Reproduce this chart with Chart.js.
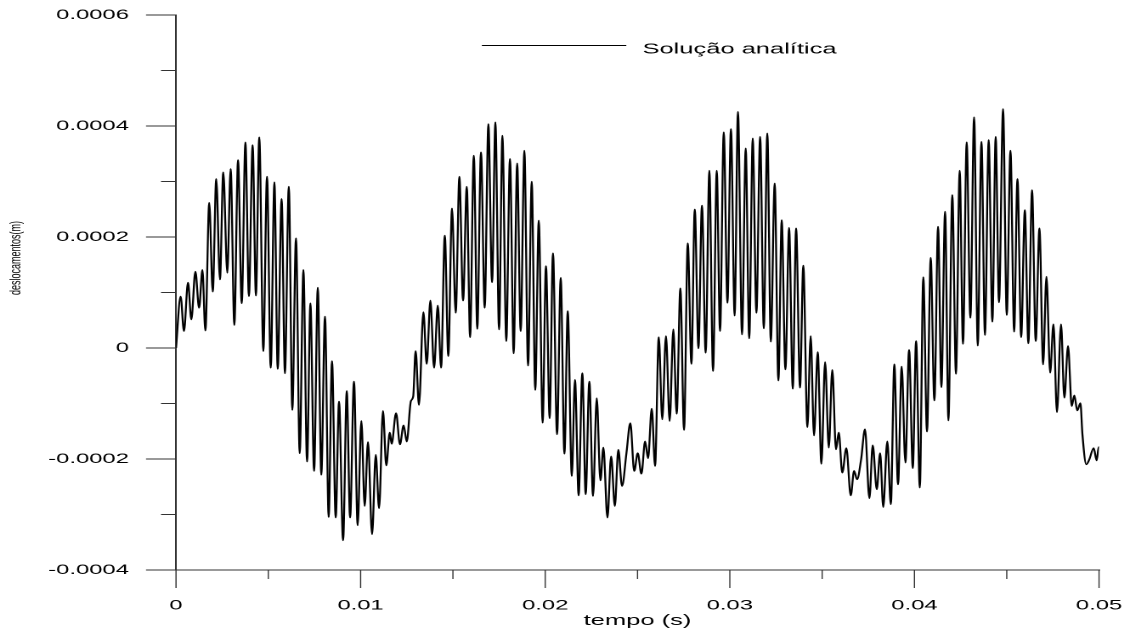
<!DOCTYPE html>
<html>
<head>
<meta charset="utf-8">
<title>Solução analítica</title>
<script src="https://cdn.jsdelivr.net/npm/chart.js@4.4.1/dist/chart.umd.min.js"></script>
<style>
    html, body { margin: 0; padding: 0; background: #fff; overflow: hidden; }
    /* the original figure is stretched sideways: draw narrow, then widen */
    #wrap { position: relative; width: 665px; height: 635px; transform: scaleX(1.6992); transform-origin: 0 0; }
</style>
</head>
<body>
<div id="wrap"><canvas id="deslocChart"></canvas></div>
<script>
// tempo em ms, deslocamento em 1e-4 m
const tempoMs = [
    0, 0.25, 0.43, 0.65, 0.83, 1.05, 1.25, 1.43, 1.59, 1.80, 1.99, 2.18, 2.38, 2.56, 2.78, 2.96,
    3.16, 3.36, 3.56, 3.76, 3.95, 4.15, 4.33, 4.51, 4.73, 4.93, 5.13, 5.33, 5.51, 5.72, 5.90, 6.11,
    6.30, 6.50, 6.70, 6.90, 7.10, 7.28, 7.48, 7.68, 7.87, 8.07, 8.27, 8.45, 8.65, 8.83, 9.05, 9.25,
    9.43, 9.64, 9.84, 10.04, 10.22, 10.40, 10.62, 10.82, 11.00, 11.21, 11.39, 11.58, 11.68, 11.92,
    12.13, 12.33, 12.50, 12.72, 12.85, 12.98, 13.16, 13.40, 13.58, 13.78, 13.98, 14.18, 14.36, 14.56,
    14.75, 14.95, 15.15, 15.35, 15.55, 15.75, 15.93, 16.13, 16.32, 16.52, 16.72, 16.92, 17.12, 17.30,
    17.50, 17.68, 17.89, 18.09, 18.29, 18.48, 18.67, 18.87, 19.07, 19.27, 19.46, 19.65, 19.86, 20.04,
    20.24, 20.42, 20.64, 20.84, 21.04, 21.22, 21.44, 21.61, 21.81, 22.01, 22.19, 22.39, 22.59, 22.79,
    22.99, 23.15, 23.37, 23.57, 23.77, 23.96, 24.16, 24.40, 24.61, 24.82, 25.01, 25.21, 25.41, 25.57,
    25.77, 25.95, 26.15, 26.34, 26.54, 26.74, 26.94, 27.12, 27.32, 27.52, 27.72, 27.92, 28.10, 28.30,
    28.49, 28.69, 28.89, 29.09, 29.29, 29.47, 29.67, 29.87, 30.06, 30.26, 30.44, 30.66, 30.86, 31.05,
    31.24, 31.44, 31.64, 31.84, 32.03, 32.22, 32.43, 32.63, 32.81, 33.01, 33.21, 33.41, 33.59, 33.80,
    33.98, 34.20, 34.38, 34.56, 34.76, 34.96, 35.16, 35.36, 35.55, 35.75, 35.90, 36.09, 36.31, 36.55,
    36.73, 36.89, 37.11, 37.32, 37.56, 37.74, 37.96, 38.14, 38.31, 38.53, 38.72, 38.91, 39.11, 39.31,
    39.51, 39.71, 39.91, 40.09, 40.29, 40.48, 40.68, 40.88, 41.08, 41.28, 41.46, 41.66, 41.84, 42.05,
    42.25, 42.45, 42.63, 42.83, 43.03, 43.23, 43.43, 43.63, 43.82, 44.02, 44.22, 44.40, 44.58, 44.80,
    45.00, 45.20, 45.40, 45.58, 45.78, 45.98, 46.17, 46.37, 46.57, 46.77, 46.97, 47.15, 47.35, 47.53,
    47.72, 47.94, 48.12, 48.32, 48.52, 48.66, 48.82, 48.99, 49.10, 49.31, 49.47, 49.71, 49.87, 49.98,
    50.00
];
const deslocamento = [
    0, 0.93, 0.30, 1.18, 0.51, 1.38, 0.72, 1.41, 0.31, 2.62, 1.01, 3.05, 1.23, 3.17, 1.35, 3.23,
    0.41, 3.39, 0.80, 3.71, 0.93, 3.66, 0.94, 3.80, -0.06, 3.09, -0.36, 2.99, -0.38, 2.69, -0.46, 2.91,
    -1.12, 1.98, -1.90, 1.41, -2.05, 0.81, -2.22, 1.09, -2.29, 0.57, -3.05, -0.23, -3.06, -0.96, -3.47, -0.77,
    -3.06, -0.60, -3.20, -1.31, -2.85, -1.69, -3.36, -1.92, -2.89, -1.13, -2.12, -1.52, -1.73, -1.17,
    -1.74, -1.39, -1.69, -0.96, -0.87, -0.05, -1.03, 0.65, -0.29, 0.86, -0.36, 0.77, -0.36, 2.03,
    -0.15, 2.52, 0.63, 3.09, 0.85, 2.91, 0.19, 3.47, 0.34, 3.53, 0.72, 4.04, 1.18, 4.07,
    0.33, 3.83, 0.12, 3.41, -0.10, 3.33, 0.30, 3.56, -0.32, 3.00, -0.76, 2.30, -1.35, 1.48,
    -1.27, 1.71, -1.56, 1.27, -1.91, 0.67, -2.31, -0.57, -2.66, -0.45, -2.64, -0.60, -2.67, -0.90,
    -2.39, -1.79, -3.06, -1.95, -2.85, -1.83, -2.49, -1.89, -1.35, -2.22, -1.89, -2.27, -1.68, -1.99,
    -1.09, -2.13, 0.20, -1.29, 0.22, -1.32, 0.34, -1.19, 1.08, -1.48, 1.89, -0.29, 2.50, -0.01,
    2.57, -0.09, 3.20, -0.42, 3.20, 0.30, 3.89, 0.81, 3.95, 0.58, 4.26, 0.24, 3.60, 0.17,
    3.78, 0.63, 3.81, 0.35, 3.87, 0.11, 2.97, -0.59, 2.31, -0.39, 2.17, -0.74, 2.16, -0.72,
    1.49, -1.43, 0.22, -1.58, -0.07, -2.09, -0.25, -1.80, -0.39, -1.83, -1.52, -2.25, -1.80, -2.66,
    -2.21, -2.37, -2.01, -1.46, -2.71, -1.75, -2.55, -1.89, -2.87, -1.68, -2.82, -0.29, -2.46, -0.33,
    -2.07, -0.03, -2.17, 0.13, -2.52, 1.28, -1.51, 1.63, -0.95, 2.19, -0.71, 2.46, -1.31, 2.76,
    -0.47, 3.20, 0.07, 3.71, 0.54, 4.16, 0.04, 3.72, 0.23, 3.75, 0.47, 3.81, 0.82, 4.31,
    0.59, 3.56, 0.29, 3.05, 0.19, 2.49, 0.08, 2.85, 0.12, 2.16, -0.30, 1.29, -0.45, 0.43,
    -1.16, 0.43, -0.90, 0.04, -1.05, -0.85, -1.13, -0.99, -1.56, -2.10, -2.01, -1.80, -2.03, -1.78,
    -1.80
];
const xTicks = { min: 0, max: 0.05, step: 0.005 };
const yTicks = { min: -0.0004, max: 0.0006, step: 0.0001 };
const yTitulo = 'deslocamentos(m)';

const STRETCH = 1130 / 665;
const fonte = '"Liberation Sans", Arial, Helvetica, sans-serif';

const pontos = tempoMs.map((t, i) => ({ x: t / 1000, y: deslocamento[i] * 1e-4 }));

function fmt(v, casas) {
    if (Math.abs(v) < 1e-12) return '0';
    return v.toFixed(casas);
}

// ticks maiores e menores (Chart.js só tem um comprimento)
const marcasEixos = {
    id: 'marcasEixos',
    afterDraw(chart) {
        const { ctx, scales: { x, y } } = chart;
        ctx.save();
        ctx.strokeStyle = '#333';
        ctx.lineWidth = 0.7;
        ctx.beginPath();
        x.ticks.forEach((t, i) => {
            const px = x.getPixelForValue(t.value);
            ctx.moveTo(px, x.top);
            ctx.lineTo(px, x.top + (i % 2 === 0 ? 18 : 9));
        });
        ctx.stroke();
        ctx.lineWidth = 1;
        ctx.beginPath();
        y.ticks.forEach((t, i) => {
            const py = y.getPixelForValue(t.value);
            ctx.moveTo(y.right, py);
            ctx.lineTo(y.right - (i % 2 === 0 ? 30 : 15) / STRETCH, py);
        });
        ctx.stroke();
        ctx.restore();
    }
};

// legenda dentro da área do gráfico + título do eixo y (fica acima do centro no original)
const legendaInterna = {
    id: 'legendaInterna',
    afterDraw(chart) {
        const { ctx, chartArea } = chart;
        const ds = chart.data.datasets[0];
        const x0 = chartArea.left + 180;
        ctx.save();
        ctx.strokeStyle = ds.borderColor;
        ctx.lineWidth = 1;
        ctx.beginPath();
        ctx.moveTo(x0, 45.5);
        ctx.lineTo(x0 + 85, 45.5);
        ctx.stroke();
        ctx.fillStyle = '#000';
        ctx.font = '15px ' + fonte;
        ctx.textBaseline = 'alphabetic';
        ctx.fillText(ds.label, x0 + 94.5, 53.3);

        ctx.translate(9.4, chartArea.top + 243);
        ctx.rotate(-Math.PI / 2);
        ctx.font = '9px ' + fonte;
        ctx.textAlign = 'center';
        ctx.textBaseline = 'middle';
        ctx.fillText(yTitulo, 0, 0);
        ctx.restore();
    }
};

const ctx = document.getElementById('deslocChart').getContext('2d');

const deslocChart = new Chart(ctx, {
    type: 'line',
    data: {
        datasets: [{
            label: 'Solução analítica',
            data: pontos,
            borderColor: '#000',
            borderWidth: 1.15,
            pointRadius: 0,
            fill: false,
            cubicInterpolationMode: 'monotone'
        }]
    },
    options: {
        responsive: true,
        maintainAspectRatio: false,
        animation: false,
        devicePixelRatio: 2,
        layout: { padding: { top: 15, right: 18.2, left: 0, bottom: 0 } },
        plugins: {
            legend: { display: false },
            tooltip: { enabled: false }
        },
        scales: {
            x: {
                type: 'linear',
                min: xTicks.min,
                max: xTicks.max,
                afterFit: (scale) => {
                    scale.height = 65;
                    scale.paddingLeft = 0;
                    scale.paddingRight = 0;
                },
                border: { display: true, color: '#333', width: 1 },
                grid: { drawOnChartArea: false, drawTicks: false },
                ticks: {
                    stepSize: xTicks.step,
                    autoSkip: false,
                    maxRotation: 0,
                    padding: 27,
                    color: '#000',
                    font: { family: fonte, size: 14 },
                    callback: (v, i) => (i % 2 === 0 ? fmt(v, 2) : '')
                },
                title: {
                    display: true,
                    text: 'tempo (s)',
                    color: '#000',
                    font: { family: fonte, size: 15 },
                    padding: { top: 0, bottom: 5 }
                }
            },
            y: {
                type: 'linear',
                min: yTicks.min,
                max: yTicks.max,
                afterFit: (scale) => {
                    scale.width = 176 / STRETCH;
                    scale.paddingTop = 0;
                    scale.paddingBottom = 0;
                },
                border: { display: true, color: '#333', width: 1 },
                grid: { drawOnChartArea: false, drawTicks: false },
                ticks: {
                    stepSize: yTicks.step,
                    autoSkip: false,
                    padding: 27.7,
                    color: '#000',
                    font: { family: fonte, size: 14 },
                    callback: (v, i) => (i % 2 === 0 ? fmt(v, 4) : '')
                }
            }
        }
    },
    plugins: [marcasEixos, legendaInterna]
});
</script>
</body>
</html>
